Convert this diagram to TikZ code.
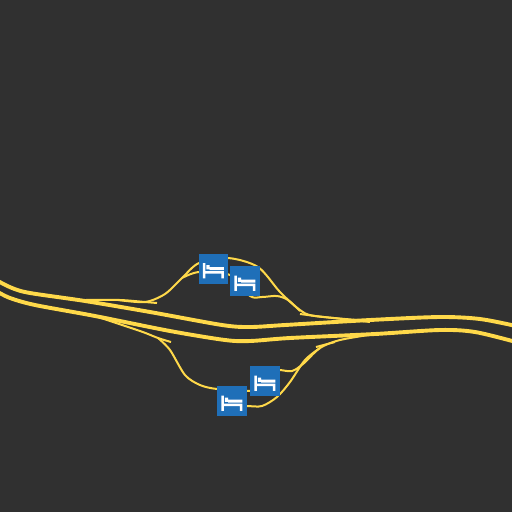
\documentclass[tikz,border=0pt]{standalone}
\usepackage{tikz}
\definecolor{ground}{HTML}{303030}
\definecolor{roadline}{HTML}{FFD94A}
\definecolor{hotelblue}{HTML}{1F6FB8}
\tikzset{
  mainroad/.style={draw=roadline, line width=0.078cm},
  sliproad/.style={draw=roadline, line width=0.04cm},
  hotel/.style={fill=hotelblue, minimum size=0.6cm, inner sep=0pt, path picture={
    \fill[white, shift={(path picture bounding box.center)}]
      (-10.5,-5.5) rectangle (-8,9.8)
      (-7,-3.5) rectangle (-3.8,0.8)
      (-3.8,-1.5) rectangle (10.5,1.5)
      (-10.5,2.5) rectangle (10.5,5)
      (8,5) rectangle (10.5,9.8);
  }}
}
\begin{document}
\begin{tikzpicture}[x=0.02cm, y=-0.02cm]
  \useasboundingbox (0,0) rectangle (512,512);
  \fill[ground] (0,0) rectangle (512,512);
  \clip (0,0) rectangle (512,512);

  % carriageways
  \draw[mainroad] plot[smooth, tension=0.5] coordinates {(-4,280) (12,288) (30,293) (85,301) (150,312) (222,325) (250,327) (285,325) (370,320) (440,317) (480,319) (516,326)};
  \draw[mainroad] plot[smooth, tension=0.5] coordinates {(-4,291) (10,298) (35,305) (95,316) (170,331) (225,340) (250,341) (290,338) (375,334) (440,330) (475,332) (516,342)};

  % north side
  \draw[sliproad] plot[smooth, tension=0.5] coordinates {(85,300) (120,300) (145,302) (157,303)};
  \draw[sliproad] plot[smooth, tension=0.5] coordinates {(118,300) (145,302) (165,294) (182,278) (199,263) (228,258) (258,267) (280,292) (300,310) (315,316) (370,321)};
  \draw[sliproad] plot[smooth, tension=0.5] coordinates {(182,278) (199,272) (230,275) (250,296) (262,297) (277,296) (288,300) (300,311)};
  \draw[sliproad] (300,314) -- (315,316) -- (370,322);

  % south side
  \draw[sliproad] plot[smooth, tension=0.5] coordinates {(95,316) (140,331) (158,338) (171,342)};
  \draw[sliproad] plot[smooth, tension=0.5] coordinates {(158,338) (170,350) (185,375) (200,385) (217,389) (250,391)};
  \draw[sliproad] plot[smooth, tension=0.5] coordinates {(265,369) (280,370) (292,371) (303,364) (320,348) (340,340) (375,334)};
  \draw[sliproad] plot[smooth, tension=0.5] coordinates {(232,406) (247,406) (262,406) (277,397) (290,382) (305,360) (320,348)};
  \draw[sliproad] (316,347) -- (335,342);

  \node (lodgeA) [hotel] at (213.5,268.5) {};
  \node (lodgeB) [hotel] at (245,281) {};
  \node (lodgeC) [hotel] at (265,381) {};
  \node (lodgeD) [hotel] at (232,401) {};
\end{tikzpicture}
\end{document}
